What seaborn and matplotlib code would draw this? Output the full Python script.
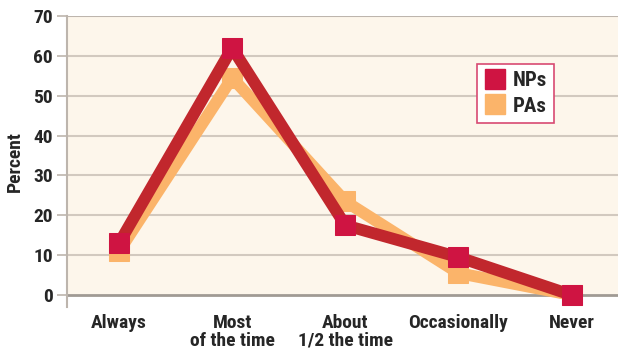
import matplotlib
matplotlib.use("Agg")
import matplotlib.pyplot as plt
import seaborn as sns
import pandas as pd
from matplotlib.lines import Line2D

categories = ["Always", "Most\nof the time", "About\n1/2 the time", "Occasionally", "Never"]
nps_values = [13, 62, 17.5, 9.5, 0]
pas_values = [11, 54.5, 23.5, 5.5, 0]
y_ticks = [0, 10, 20, 30, 40, 50, 60, 70]

sns.set_theme(style="white")
plt.rcParams['font.family'] = ['Roboto Condensed', 'Liberation Sans', 'DejaVu Sans']

NP_LINE = "#c1272d"
NP_MARK = "#cf1442"
PA_COL = "#fbb46a"
BG = "#fdf6eb"

fig = plt.figure(figsize=(6.18, 3.5), dpi=100)
ax = fig.add_axes([67/618, 43/350, 551/618, 291/350])
ax.set_facecolor("white")

x = list(range(len(categories)))
df_pa = pd.DataFrame({"x": x, "y": pas_values})
df_np = pd.DataFrame({"x": x, "y": nps_values})

ax.axhspan(0, 70, color=BG, zorder=0, lw=0)
for t in y_ticks[1:-1]:
    ax.axhline(t, color="#d2c9bf", lw=1.5, zorder=1)
ax.axhline(70, color="#bdb5ad", lw=1.5, zorder=1)
ax.axhline(0, color="#a09a94", lw=2, zorder=1)

sns.lineplot(data=df_pa, x="x", y="y", ax=ax, color=PA_COL, lw=8.5, marker="s",
             markersize=14, markerfacecolor=PA_COL, markeredgecolor=PA_COL, zorder=3,
             solid_joinstyle="round")
sns.lineplot(data=df_np, x="x", y="y", ax=ax, color=NP_LINE, lw=8.5, marker="s",
             markersize=14.5, markerfacecolor=NP_MARK, markeredgecolor=NP_MARK, zorder=4,
             solid_joinstyle="round")
for ln in ax.lines[-2:]:
    ln.set_clip_on(False)

ax.set_xlim(-0.46, 4.41)
ax.set_ylim(-3, 70)
ax.set_yticks(y_ticks)
ax.set_yticklabels([str(t) for t in y_ticks], fontsize=14, fontweight="bold")
ax.set_xticks(x)
ax.set_xticklabels(categories, fontsize=14, fontweight="bold", linespacing=1.0)
ax.tick_params(axis="y", length=7, width=1.2, color="#bdb5ad", pad=3, left=True)
ax.tick_params(axis="x", length=0, pad=5)
ax.set_xlabel("")
ax.set_ylabel("Percent", fontsize=14, fontweight="bold", labelpad=7)

for s in ["top", "right", "bottom"]:
    ax.spines[s].set_visible(False)
ax.spines["left"].set_color("#bdb5ad")
ax.spines["left"].set_linewidth(1.5)

handles = [
    Line2D([], [], lw=0, marker="s", markersize=15, markerfacecolor=NP_MARK, markeredgecolor=NP_MARK, label="NPs"),
    Line2D([], [], lw=0, marker="s", markersize=15, markerfacecolor=PA_COL, markeredgecolor=PA_COL, label="PAs"),
]
leg = ax.legend(handles=handles, loc="upper left", bbox_to_anchor=((477-67)/551, (307-64)/291),
                frameon=True, fancybox=False, prop={"size": 15, "weight": "bold"},
                handlelength=1.0, handletextpad=0.35, borderpad=0.35, labelspacing=0.3,
                borderaxespad=0)
leg.get_frame().set_edgecolor("#d84a72")
leg.get_frame().set_linewidth(1.2)
leg.get_frame().set_facecolor("white")
leg.get_frame().set_alpha(1)
leg.set_zorder(6)

fig.savefig("out.png", dpi=100)
